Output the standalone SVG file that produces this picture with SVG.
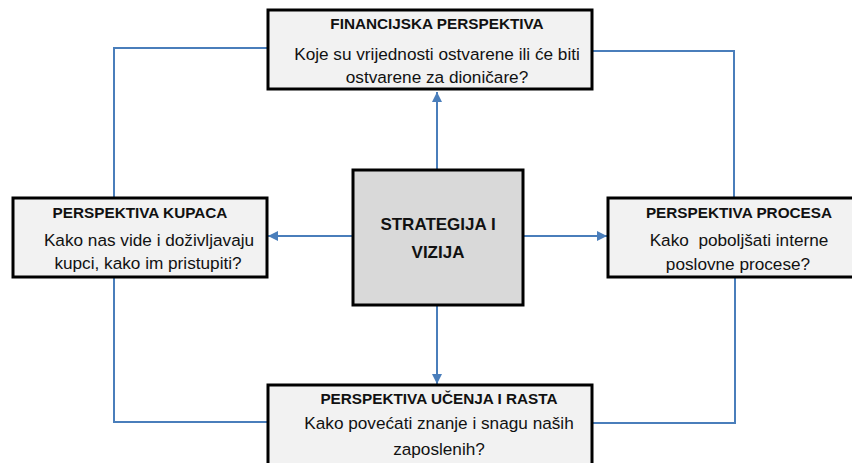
<svg xmlns="http://www.w3.org/2000/svg" width="852" height="463" viewBox="0 0 852 463">
  <defs>
    <marker id="arr" markerUnits="userSpaceOnUse" markerWidth="10" markerHeight="10" viewBox="0 0 10 10" refX="10" refY="5" orient="auto">
      <path d="M0,0 L10,5 L0,10 Z" fill="#4a7ebb"/>
    </marker>
    <style>
      .box { fill: #f2f2f2; stroke: #000; stroke-width: 3; }
      .core { fill: #d9d9d9; stroke: #000; stroke-width: 3; }
      .t { font-family: "Liberation Sans", Arial, sans-serif; font-weight: bold; font-size: 15.3px; fill: #111; text-anchor: middle; }
      .b { font-family: "Liberation Sans", Arial, sans-serif; font-size: 17.2px; fill: #111; text-anchor: middle; }
      .c { font-family: "Liberation Sans", Arial, sans-serif; font-weight: bold; font-size: 17px; fill: #111; text-anchor: middle; }
      .ln { fill: none; stroke: #4a7ebb; stroke-width: 2; }
    </style>
  </defs>
  <rect width="852" height="463" fill="#fff"/>
  <g id="connectors">
    <path class="ln" d="M267,48 H114 V198"/>
    <path class="ln" d="M593,51 H734 V198"/>
    <path class="ln" d="M114,278 V422 H268"/>
    <path class="ln" d="M735,278 V423 H593"/>
    <path class="ln" d="M437,170 V92" marker-end="url(#arr)"/>
    <path class="ln" d="M437,306 V384" marker-end="url(#arr)"/>
    <path class="ln" d="M352,236 H268" marker-end="url(#arr)"/>
    <path class="ln" d="M523,236 H607" marker-end="url(#arr)"/>
  </g>
  <g id="financijska">
    <rect class="box" x="268" y="10" width="324" height="79"/>
    <text class="t" x="437" y="29">FINANCIJSKA PERSPEKTIVA</text>
    <text class="b" x="437" y="60">Koje su vrijednosti ostvarene ili će biti</text>
    <text class="b" x="437" y="83">ostvarene za dioničare?</text>
  </g>
  <g id="kupaca">
    <rect class="box" x="13" y="198" width="254" height="79"/>
    <text class="t" x="140" y="218">PERSPEKTIVA KUPACA</text>
    <text class="b" x="149" y="246">Kako nas vide i doživljavaju</text>
    <text class="b" x="148" y="269">kupci, kako im pristupiti?</text>
  </g>
  <g id="procesa">
    <rect class="box" x="608" y="198" width="262" height="79"/>
    <text class="t" x="739" y="218">PERSPEKTIVA PROCESA</text>
    <text class="b" x="739" y="246" xml:space="preserve">Kako  poboljšati interne</text>
    <text class="b" x="738" y="270">poslovne procese?</text>
  </g>
  <g id="ucenja">
    <rect class="box" x="268" y="385" width="324" height="90"/>
    <text class="t" x="439" y="404">PERSPEKTIVA UČENJA I RASTA</text>
    <text class="b" x="439" y="429">Kako povećati znanje i snagu naših</text>
    <text class="b" x="439" y="455">zaposlenih?</text>
  </g>
  <g id="strategija">
    <rect class="core" x="353" y="170" width="170" height="135"/>
    <text class="c" x="438" y="230">STRATEGIJA I</text>
    <text class="c" x="438" y="258">VIZIJA</text>
  </g>
</svg>
